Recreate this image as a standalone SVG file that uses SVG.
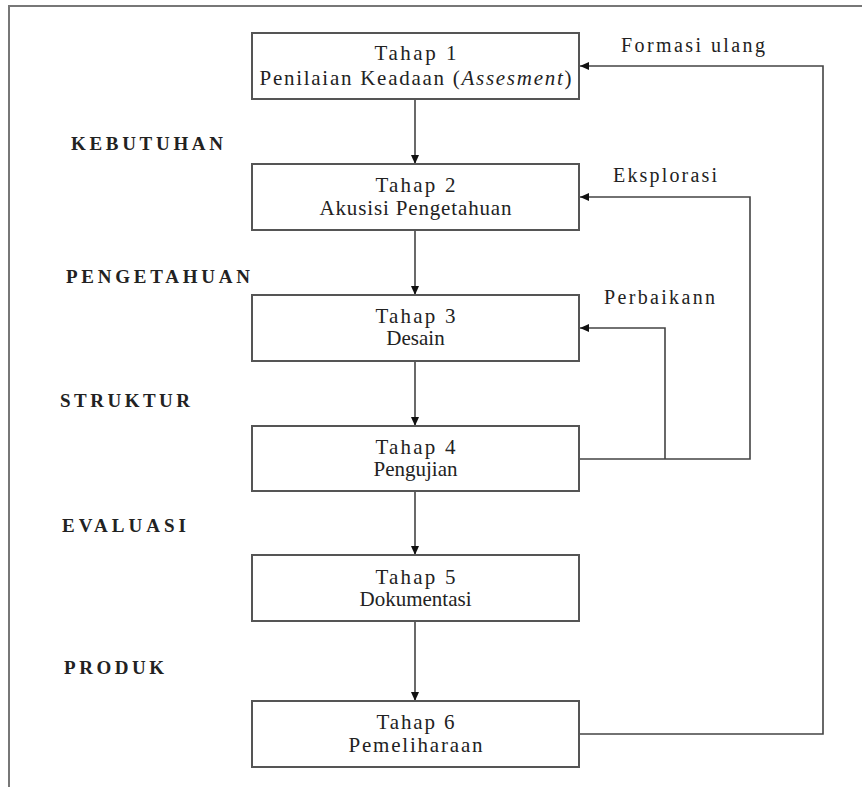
<svg xmlns="http://www.w3.org/2000/svg" width="862" height="787" viewBox="0 0 862 787">
<style>
.box{fill:#fff;stroke:#555;stroke-width:2}
.t{font-family:"Liberation Serif","DejaVu Serif",serif;font-size:21px;fill:#222;text-anchor:middle}
.lab{font-family:"Liberation Serif","DejaVu Serif",serif;font-size:19px;fill:#222;font-weight:bold}
.rl{font-family:"Liberation Serif","DejaVu Serif",serif;font-size:20px;fill:#222}
.c{fill:none;stroke:#444;stroke-width:1.6}
.frame{fill:none;stroke:#777;stroke-width:2}
</style>
<defs>
<marker id="ah" markerWidth="10" markerHeight="8" refX="9" refY="4" orient="auto" markerUnits="userSpaceOnUse">
<path d="M0,0 L9,4 L0,8 Z" fill="#111"/>
</marker>
</defs>
<path class="frame" d="M9,787 V6 H862"/>
<g id="labels">
<text class="lab" x="71" y="150" textLength="152" lengthAdjust="spacing">KEBUTUHAN</text>
<text class="lab" x="66" y="283" textLength="184" lengthAdjust="spacing">PENGETAHUAN</text>
<text class="lab" x="60" y="407" textLength="130" lengthAdjust="spacing">STRUKTUR</text>
<text class="lab" x="62" y="532" textLength="124" lengthAdjust="spacing">EVALUASI</text>
<text class="lab" x="64" y="674" textLength="100" lengthAdjust="spacing">PRODUK</text>
<text class="rl" x="621" y="52" textLength="144" lengthAdjust="spacing">Formasi ulang</text>
<text class="rl" x="613" y="182" textLength="104" lengthAdjust="spacing">Eksplorasi</text>
<text class="rl" x="604" y="304" textLength="111" lengthAdjust="spacing">Perbaikann</text>
</g>
<g id="connectors">
<line class="c" x1="415" y1="99" x2="415" y2="164" marker-end="url(#ah)"/>
<line class="c" x1="415" y1="230" x2="415" y2="295" marker-end="url(#ah)"/>
<line class="c" x1="415" y1="361" x2="415" y2="426" marker-end="url(#ah)"/>
<line class="c" x1="415" y1="491" x2="415" y2="555" marker-end="url(#ah)"/>
<line class="c" x1="415" y1="621" x2="415" y2="701" marker-end="url(#ah)"/>
<path class="c" d="M579,459 H750 V197 H580" marker-end="url(#ah)"/>
<path class="c" d="M665,459 V328 H580" marker-end="url(#ah)"/>
<path class="c" d="M579,734 H823 V66 H580" marker-end="url(#ah)"/>
</g>
<g id="tahap1">
<rect class="box" x="252" y="33" width="327" height="66"/>
<text class="t" x="415.5" y="60" textLength="82" lengthAdjust="spacing">Tahap 1</text>
<text class="t" x="415.5" y="85" textLength="312" lengthAdjust="spacing">Penilaian Keadaan (<tspan font-style="italic">Assesment</tspan>)</text>
</g>
<g id="tahap2">
<rect class="box" x="252" y="164" width="327" height="66"/>
<text class="t" x="415.5" y="192" textLength="80" lengthAdjust="spacing">Tahap 2</text>
<text class="t" x="415.5" y="215" textLength="192" lengthAdjust="spacing">Akusisi Pengetahuan</text>
</g>
<g id="tahap3">
<rect class="box" x="252" y="295" width="327" height="66"/>
<text class="t" x="415.5" y="323" textLength="80" lengthAdjust="spacing">Tahap 3</text>
<text class="t" x="415.5" y="345">Desain</text>
</g>
<g id="tahap4">
<rect class="box" x="252" y="426" width="327" height="65"/>
<text class="t" x="415.5" y="454" textLength="80" lengthAdjust="spacing">Tahap 4</text>
<text class="t" x="415.5" y="476">Pengujian</text>
</g>
<g id="tahap5">
<rect class="box" x="252" y="555" width="327" height="66"/>
<text class="t" x="415.5" y="584" textLength="80" lengthAdjust="spacing">Tahap 5</text>
<text class="t" x="415.5" y="606">Dokumentasi</text>
</g>
<g id="tahap6">
<rect class="box" x="252" y="701" width="327" height="66"/>
<text class="t" x="415.5" y="729" textLength="78" lengthAdjust="spacing">Tahap 6</text>
<text class="t" x="415.5" y="752" textLength="134" lengthAdjust="spacing">Pemeliharaan</text>
</g>
</svg>
